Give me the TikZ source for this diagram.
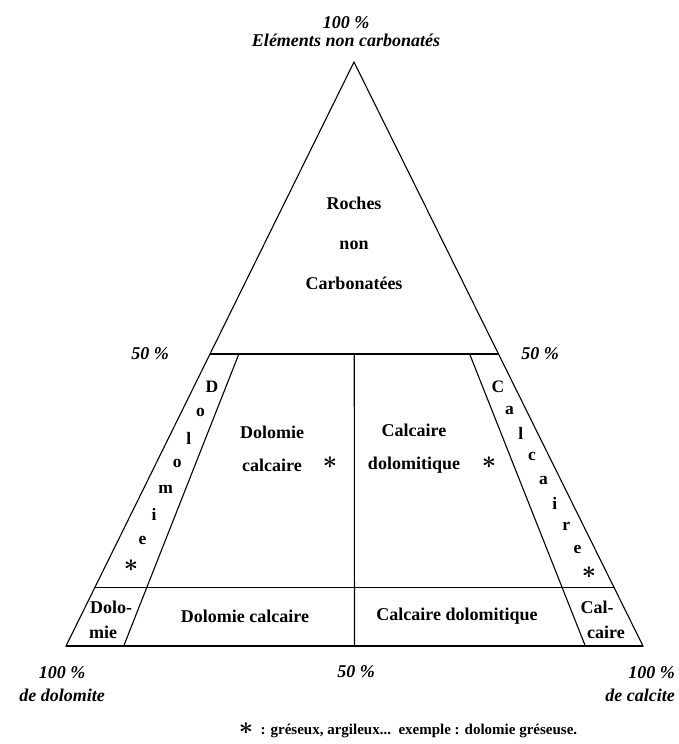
\documentclass[tikz,border=0pt]{standalone}
\usepackage{fontspec}
\setmainfont{Liberation Serif}
\usetikzlibrary{positioning,calc}
\tikzset{
  side/.style  ={line width=1.1pt,draw=black},
  rule/.style  ={line width=1.7pt,draw=black},
  zone/.style  ={font=\fontsize{18}{33}\selectfont\bfseries,align=center,inner sep=1pt},
  letter/.style={font=\fontsize{17.5}{18}\selectfont\bfseries,inner sep=0pt},
  star/.style  ={font=\fontsize{26}{26}\selectfont\boldmath,inner sep=0pt},
  pct/.style   ={font=\fontsize{18}{23}\selectfont\bfseries\itshape,align=center,inner sep=0pt},
  note/.style  ={font=\fontsize{15}{17}\selectfont\bfseries,inner sep=0pt},
}

\begin{document}
\begin{tikzpicture}[x=1pt,y=-1pt]
  \useasboundingbox (0,0) rectangle (679,744);
  % corners of the triangle
  \coordinate (top)  at (354,62);
  \coordinate (dolo) at (66,646);
  \coordinate (calc) at (643,646);
  \coordinate (hl) at ($(top)!0.5!(dolo)$);
  \coordinate (hr) at ($(top)!0.5!(calc)$);
  \coordinate (ll) at ($(top)!0.9!(dolo)$);
  \coordinate (lr) at ($(top)!0.9!(calc)$);

  \draw[side] (top) -- (dolo) -- (calc) -- cycle;
  \draw[rule] (dolo) -- (calc);
  \draw[rule] (hl) -- (hr);
  \draw[rule] (ll) -- (lr);
  \draw[side] ($(hl)!0.1!(hr)$) -- ($(dolo)!0.1!(calc)$);
  \draw[side] ($(hl)!0.9!(hr)$) -- ($(dolo)!0.9!(calc)$);
  \draw[side] ($(hl)!0.5!(hr)$) -- ($(dolo)!0.5!(calc)$);

  % labels of the fields
  \node[zone,font=\fontsize{18}{40}\selectfont\bfseries] (roches) at (354,243) {Roches\\non\\Carbonatées};
  \node[zone] (dolcalc) at (272,449) {Dolomie\\calcaire};
  \node[zone] (caldol)  at (414,449) {Calcaire\\dolomitique};
  \node[star] (s1) at (330,463) {$\ast$};
  \node[star] (s2) at (489,463) {$\ast$};
  \node[zone] (dolcalc2) at (245,616) {Dolomie calcaire};
  \node[zone] (caldol2)  at (457,616) {Calcaire dolomitique};
  \node[zone] (dolo1) at (111,607) {Dolo-};
  \node[zone] (dolo2) at (103,632) {mie};
  \node[zone] (calc1) at (597,607) {Cal-};
  \node[zone] (calc2) at (606,632) {caire};

  % letters along the side strips
  \coordinate (da) at (212,387);
  \coordinate (db) at (131,566);
  \foreach \ch [count=\i] in {D,o,l,o,m,i,e}
    \node[letter] (d\i) at ($(da)!{(\i-1)/7}!(db)$) {\ch};
  \node[star] (s3) at (db) {$\ast$};
  \coordinate (ca) at (498,387);
  \coordinate (cb) at (589,573);
  \foreach \ch [count=\i] in {C,a,l,c,a,i,r,e}
    \node[letter] (c\i) at ($(ca)!{(\i-1)/8}!(cb)$) {\ch};
  \node[star] (s4) at (cb) {$\ast$};

  % percentages
  \node[pct] (elem) at (346,40) {Eléments non carbonatés};
  \node[pct,above=5pt of elem] (p100t) {100 \%};
  \node[pct] (p50l) at (150,354) {50 \%};
  \node[pct] (p50r) at (540,354) {50 \%};
  \node[pct] (p50b) at (356,672) {50 \%};
  \node[pct] (pdol) at (62,684) {100 \%\\de dolomite};
  \node[pct,align=right,anchor=east] (pcal) at (675,684) {100 \%\\de calcite};

  \node[note] (foot) at (408,730) {{\fontsize{24}{24}\selectfont\boldmath$\ast$}\ \ : gréseux, argileux...\ \ exemple : dolomie gréseuse.};
\end{tikzpicture}
\end{document}
